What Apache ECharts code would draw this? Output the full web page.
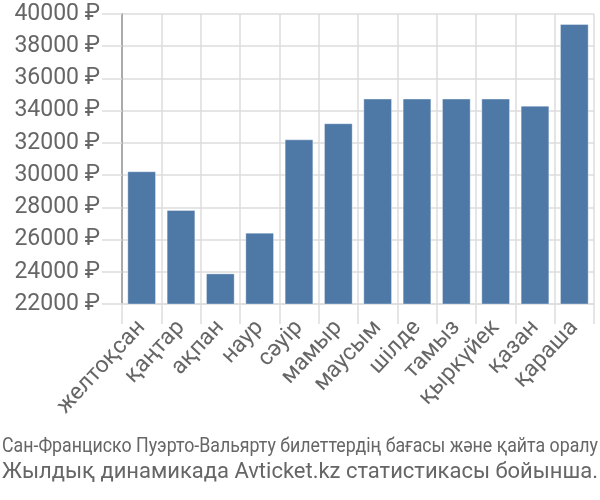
<!DOCTYPE html>
<html><head><meta charset="utf-8">
<script src="https://cdn.jsdelivr.net/npm/echarts@6/dist/echarts.min.js"></script>
<style>html,body{margin:0;padding:0;background:#fff}#c{width:600px;height:500px}</style>
</head><body><div id="c"></div>
<script>
const months = ['желтоқсан','қаңтар','ақпан','наур','сәуір','мамыр','маусым','шілде','тамыз','қыркүйек','қазан','қараша'];
const prices = [30240, 27840, 23900, 26430, 32220, 33220, 34750, 34750, 34750, 34750, 34310, 39380];
const yTicks = {min: 22000, max: 40000, interval: 2000};
const title1 = 'Сан-Франциско Пуэрто-Вальярту билеттердің бағасы және қайта оралу';
const title2 = 'Жылдық динамикада Avticket.kz статистикасы бойынша.';

const FONT = 'Roboto, "Liberation Sans", sans-serif';
function measure(t, size){const c=document.createElement('canvas').getContext('2d');c.font=size+'px '+FONT;return c.measureText(t).width;}
const s1 = 596/measure(title1,20);
const s2 = 596/measure(title2,22);

const chart = echarts.init(document.getElementById('c'), null, {renderer:'canvas'});
chart.setOption({
  animation:false,
  grid:{left:122,right:6,top:14,bottom:196,containLabel:false},
  xAxis:{type:'category',data:months,
    axisLine:{show:true,lineStyle:{color:'#ddd',width:1.5}},
    axisTick:{show:true,length:20,lineStyle:{color:'#ddd',width:1.5}},
    splitLine:{show:true,lineStyle:{color:'#ddd',width:1.5}},
    axisLabel:{rotate:47,fontSize:23,color:'#666',fontFamily:FONT,margin:20,interval:0}
  },
  yAxis:{type:'value',min:yTicks.min,max:yTicks.max,interval:yTicks.interval,
    axisLine:{show:true,lineStyle:{color:'#aaa',width:2}},
    axisTick:{show:true,length:20,lineStyle:{color:'#ddd',width:1.5}},
    splitLine:{show:true,lineStyle:{color:'#ddd',width:1.5}},
    axisLabel:{fontSize:23,color:'#666',fontFamily:FONT,margin:22,formatter:v=>v+' ₽'}
  },
  series:[{type:'bar',data:prices,barCategoryGap:'27%',
    itemStyle:{color:'#4e79a7',borderColor:'rgba(255,255,255,0.35)',borderWidth:1}}],
  graphic:[
    {type:'text',left:2,top:437,scaleX:s1,style:{text:title1,font:'20px '+FONT,fill:'#666'}},
    {type:'text',left:2,top:461,scaleX:s2,style:{text:title2,font:'22px '+FONT,fill:'#666'}}
  ]
});
</script></body></html>
